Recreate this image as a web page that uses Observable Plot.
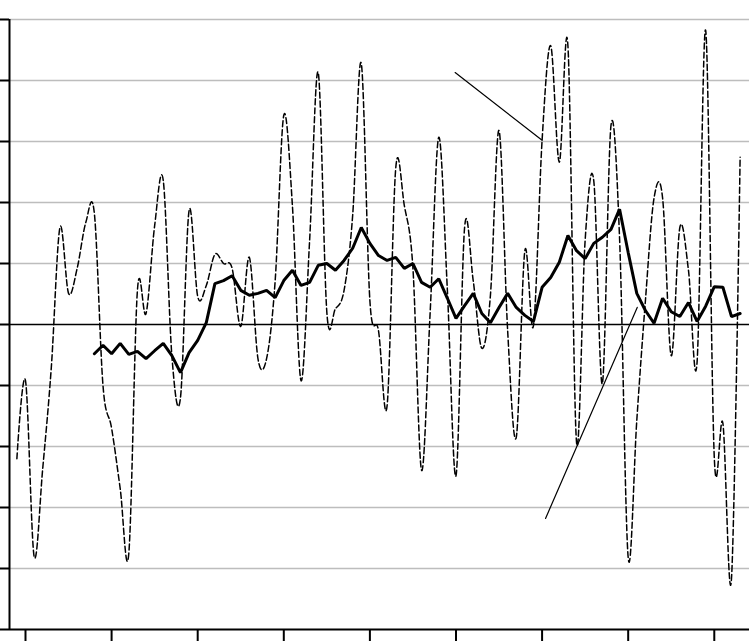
<!DOCTYPE html>
<html>
<head>
<meta charset="utf-8">
<script src="https://cdn.jsdelivr.net/npm/d3@7"></script>
<script src="https://cdn.jsdelivr.net/npm/@observablehq/plot@0.6"></script>
<style>
  html, body { margin: 0; padding: 0; background: #fff; }
  #chart svg { display: block; }
  #chart g[aria-label="x-axis tick"] path, #chart g[aria-label="y-axis tick"] path { stroke-width: 2px; }
</style>
</head>
<body>
<div id="chart"></div>
<script>
// Periods (category index), first dashed value sits one period before the first tick
const periodStart = -1;
// Volatile series (thin dashed, smoothed)
const rawSeries = [
  -2.20, -0.92, -3.80, -2.36, -0.70, 1.59, 0.51, 0.92, 1.67, 1.82,
  -1.00, -1.70, -2.69, -3.75, 0.56, 0.18, 1.62, 2.36, -0.51, -1.20,
  1.87, 0.46, 0.64, 1.15, 1.00, 0.92, -0.03, 1.10, -0.56, -0.56,
  0.72, 3.43, 1.95, -0.92, 1.38, 4.13, 0.20, 0.26, 0.56, 1.79,
  4.28, 0.39, -0.10, -1.33, 2.56, 1.95, 0.92, -2.39, 0.20, 3.07,
  0.56, -2.48, 1.59, 0.72, -0.39, 0.48, 3.18, -0.10, -1.85, 1.21,
  -0.02, 3.02, 4.57, 2.66, 4.57, -1.93, 1.38, 2.36, -0.97, 3.26,
  1.41, -3.82, -1.57, 0.39, 2.07, 2.07, -0.51, 1.59, 0.89, -0.62,
  4.82, -2.18, -1.62, -4.16, 2.74
];
// Moving-average series (thick solid) starts at period 8
const avgStart = 8;
const avgSeries = [
  -0.48, -0.34, -0.48, -0.31, -0.49, -0.44, -0.56, -0.43, -0.31, -0.51,
  -0.79, -0.46, -0.26, 0.03, 0.67, 0.72, 0.80, 0.56, 0.48, 0.51,
  0.56, 0.44, 0.72, 0.89, 0.64, 0.69, 0.97, 1.00, 0.89, 1.05,
  1.25, 1.59, 1.33, 1.13, 1.05, 1.10, 0.92, 1.00, 0.69, 0.61,
  0.75, 0.43, 0.10, 0.31, 0.51, 0.18, 0.03, 0.28, 0.51, 0.28,
  0.15, 0.05, 0.61, 0.77, 1.02, 1.46, 1.21, 1.08, 1.33, 1.43,
  1.56, 1.89, 1.18, 0.51, 0.23, 0.02, 0.43, 0.21, 0.13, 0.36,
  0.05, 0.30, 0.62, 0.61, 0.13, 0.18
];
// Axis ticks
const xTicks = [0, 10, 20, 30, 40, 50, 60, 70, 80];
const yTicks = [-5, -4, -3, -2, -1, 0, 1, 2, 3, 4, 5];
const yGrid = [-4, -3, -2, -1, 1, 2, 3, 4, 5];
// Callout leader lines (period, value)
const calloutUpperX = [49.9, 60];
const calloutUpperY = [4.13, 3.02];
const calloutLowerX = [60.4, 71.05];
const calloutLowerY = [-3.18, 0.28];

const rawData = rawSeries.map((v, i) => ({x: periodStart + i, y: v}));
const avgData = avgSeries.map((v, i) => ({x: avgStart + i, y: v}));
const upperData = calloutUpperX.map((x, i) => ({x, y: calloutUpperY[i]}));
const lowerData = calloutLowerX.map((x, i) => ({x, y: calloutLowerY[i]}));

const xMin = -1.858, xMax = 84.09;

const chart = Plot.plot({
  width: 749,
  height: 641,
  marginLeft: 9,
  marginRight: 0,
  marginTop: 19,
  marginBottom: 12,
  style: {background: "#fff", color: "#000"},
  x: {domain: [xMin, xMax], ticks: xTicks, tickSize: 12, tickFormat: () => "", label: null},
  y: {domain: [-5, 5], ticks: yTicks, tickSize: 9, tickFormat: () => "", label: null},
  marks: [
    Plot.ruleY(yGrid, {stroke: "#bdbdbd", strokeWidth: 1.3}),
    Plot.ruleY([0], {stroke: "#000", strokeWidth: 1.5}),
    Plot.ruleY([-5], {stroke: "#000", strokeWidth: 2}),
    Plot.ruleX([xMin], {stroke: "#000", strokeWidth: 2}),
    Plot.line(rawData, {x: "x", y: "y", curve: "cardinal", stroke: "#000", strokeWidth: 1.5, strokeDasharray: "6,3"}),
    Plot.line(avgData, {x: "x", y: "y", stroke: "#000", strokeWidth: 3, strokeLinejoin: "miter"}),
    Plot.line(upperData, {x: "x", y: "y", stroke: "#000", strokeWidth: 1.2}),
    Plot.line(lowerData, {x: "x", y: "y", stroke: "#000", strokeWidth: 1.2})
  ]
});
document.getElementById("chart").appendChild(chart);
</script>
</body>
</html>
